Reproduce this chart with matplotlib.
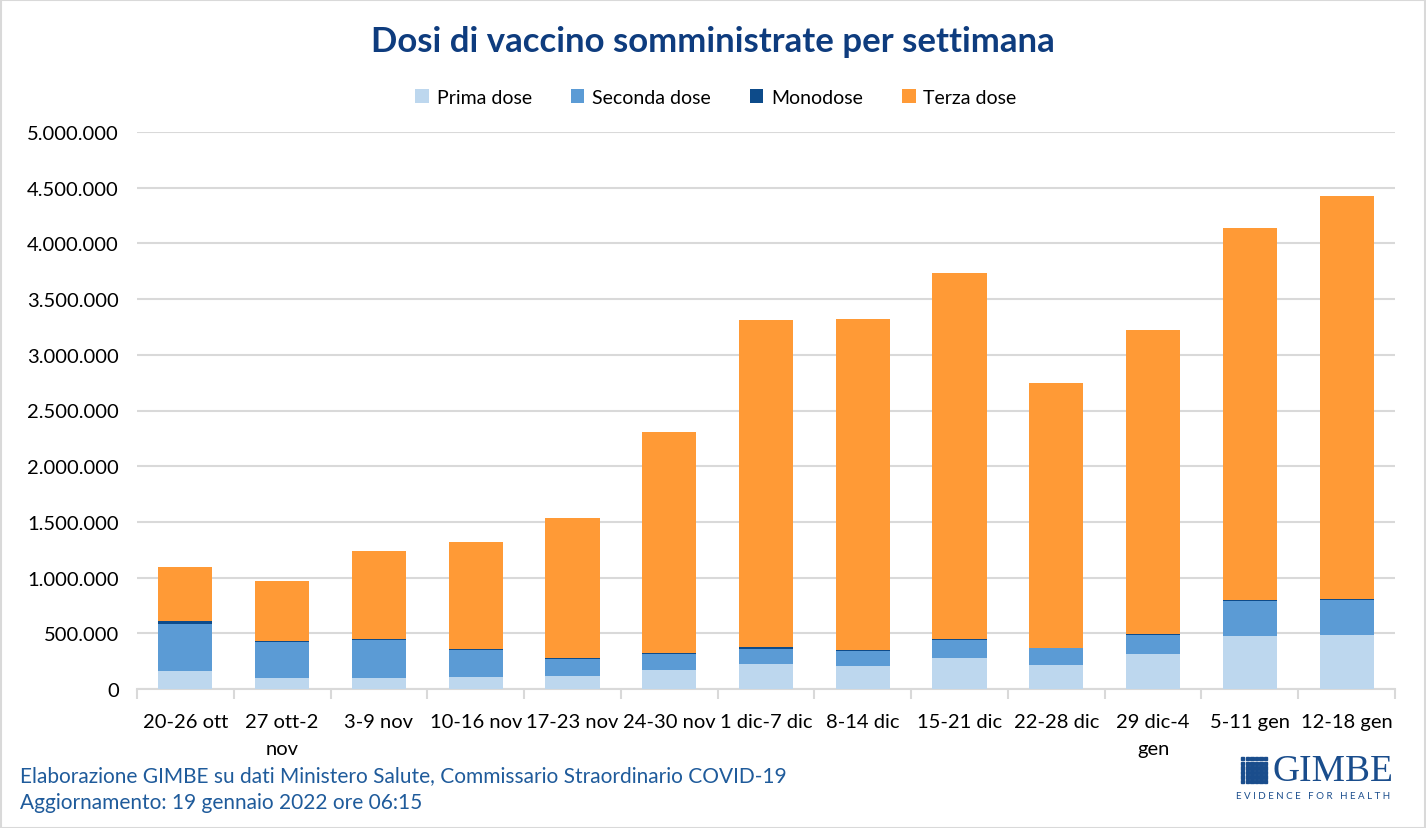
import matplotlib
matplotlib.use("Agg")
import matplotlib.pyplot as plt
from matplotlib.patches import Rectangle
from matplotlib.ticker import FuncFormatter, FixedLocator, NullFormatter
import numpy as np

categories = ["20-26 ott", "27 ott-2\nnov", "3-9 nov", "10-16 nov", "17-23 nov",
              "24-30 nov", "1 dic-7 dic", "8-14 dic", "15-21 dic", "22-28 dic",
              "29 dic-4\ngen", "5-11 gen", "12-18 gen"]
prima = [165000, 100000, 100000, 110000, 117000, 171000, 224000, 206000,
         281000, 215000, 314000, 476000, 485000]
seconda = [418000, 325000, 343000, 243000, 155000, 146000, 135000, 138000,
           162000, 153000, 174000, 317000, 317000]
mono = [27000, 9000, 9000, 9000, 9000, 9000, 18000, 9000, 9000, 3000, 9000,
        9000, 9000]
terza = [485000, 535000, 787000, 958000, 1254000, 1983000, 2932000, 2965000,
         3279000, 2378000, 2725000, 3339000, 3617000]
series_names = ["Prima dose", "Seconda dose", "Monodose", "Terza dose"]
colors = ["#BDD7EE", "#5B9BD5", "#0D4B8A", "#FF9A36"]

FONT = ["Lato", "DejaVu Sans"]
plt.rcParams['font.family'] = FONT

W, H = 1426, 829
fig = plt.figure(figsize=(W / 100, H / 100), dpi=100)
ax = fig.add_axes([137 / W, 1 - 690 / H, (1395 - 137) / W, (690 - 133) / H])

x = np.arange(len(categories))
bottom = np.zeros(len(categories))
for vals, name, c in zip([prima, seconda, mono, terza], series_names, colors):
    ax.bar(x, vals, width=0.56, bottom=bottom, color=c, label=name, zorder=3)
    bottom += np.array(vals)

ax.set_xlim(-0.5, len(categories) - 0.5)
ax.set_ylim(0, 5000000)
ax.set_yticks(np.arange(0, 5000001, 500000))
ax.yaxis.set_major_formatter(FuncFormatter(lambda v, p: f"{int(v):,}".replace(",", ".")))
ax.grid(axis="y", color="#D9D9D9", linewidth=1.5, zorder=0)
ax.tick_params(axis="y", length=0, labelsize=14.5, pad=13, labelcolor="#000000")

# category labels centered, tick marks at boundaries
ax.set_xticks(x)
ax.set_xticklabels(categories, fontsize=14.5, linespacing=1.75, va="top")
ax.tick_params(axis="x", which="major", length=0, pad=17)
ax.xaxis.set_minor_locator(FixedLocator(np.arange(-0.5, len(categories), 1)))
ax.xaxis.set_minor_formatter(NullFormatter())
ax.tick_params(axis="x", which="minor", length=7, width=1.5, color="#D9D9D9")

for s in ["top", "right", "left"]:
    ax.spines[s].set_visible(False)
ax.spines["bottom"].set_color("#D9D9D9")
ax.spines["bottom"].set_linewidth(1.5)

fig.text(713 / W, 1 - 42 / H, "Dosi di vaccino somministrate per settimana",
         ha="center", va="center", fontsize=25, fontweight="bold", color="#0E3C7E")

leg = fig.legend(loc="center", bbox_to_anchor=(716 / W, 1 - 98 / H), ncol=4,
                 frameon=False, fontsize=14, handlelength=0.7, handleheight=0.7,
                 handletextpad=0.4, columnspacing=2.0)

blue = "#1F5B9B"
fig.text(20 / W, 1 - 776 / H,
         "Elaborazione GIMBE su dati Ministero Salute, Commissario Straordinario COVID-19",
         ha="left", va="center", fontsize=15, color=blue)
fig.text(20 / W, 1 - 803 / H, "Aggiornamento: 19 gennaio 2022 ore 06:15",
         ha="left", va="center", fontsize=15, color=blue)

# logo
logo_blue = "#1A4D8C"
for i in range(6):
    for j in range(6):
        fig.patches.append(Rectangle(((1241 + i * 4.6) / W, 1 - (758 + j * 4.6 + 3.3) / H),
                                     3.3 / W, 3.3 / H, transform=fig.transFigure,
                                     color=logo_blue))
fig.text(1272 / W, 1 - 772 / H, "GIMBE", ha="left", va="center", fontsize=27,
         color=logo_blue, family=["Liberation Serif", "DejaVu Serif"])
fig.text(1313 / W, 1 - 797 / H, "E V I D E N C E   F O R   H E A L T H", ha="center",
         va="center", fontsize=7, color=logo_blue)

# figure border
fig.patches.append(Rectangle((0.5 / W, 0.5 / H), 1 - 1.5 / W, 1 - 1.5 / H,
                             transform=fig.transFigure, fill=False,
                             edgecolor="#D9D9D9", linewidth=1.5))

fig.savefig("out.png", dpi=100)
